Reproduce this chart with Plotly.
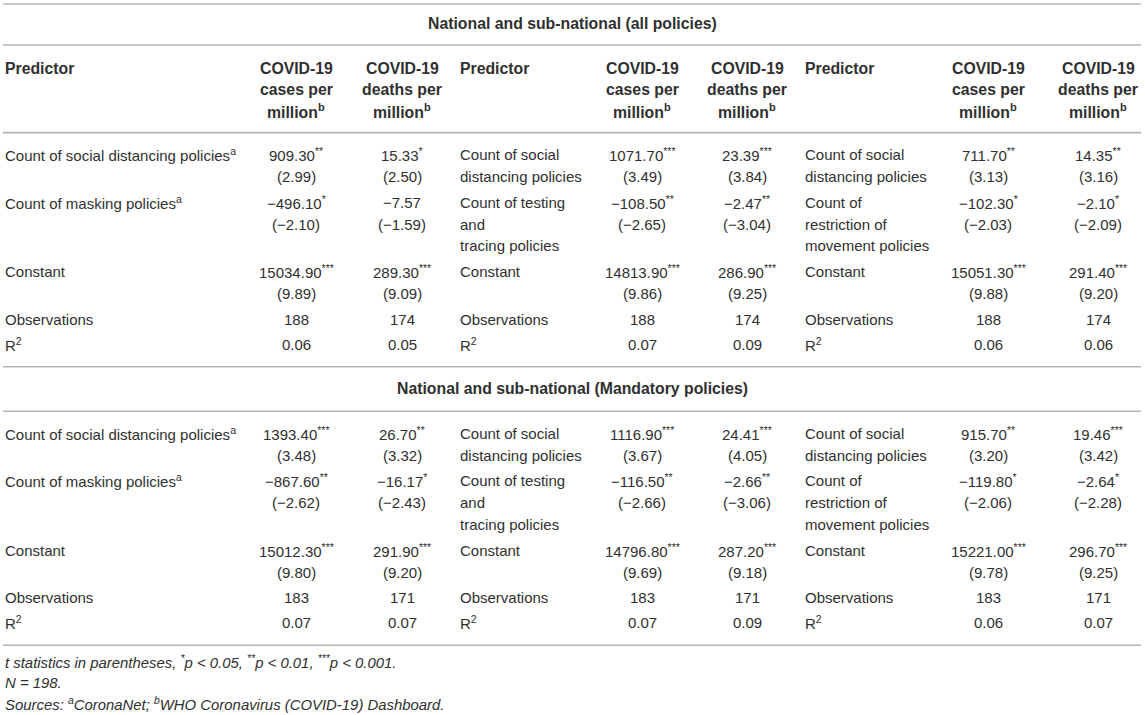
import plotly.graph_objects as go

# ---------------- data ----------------
section_titles = ["National and sub-national (all policies)",
                  "National and sub-national (Mandatory policies)"]
header_predictor = "Predictor"
header_cases = ["COVID-19", "cases per", "million<sup>b</sup>"]
header_deaths = ["COVID-19", "deaths per", "million<sup>b</sup>"]

# predictor labels for the three models (one list of wrapped lines per model)
social_labels = [["Count of social distancing policies<sup>a</sup>"],
                 ["Count of social", "distancing policies"],
                 ["Count of social", "distancing policies"]]
second_labels = [["Count of masking policies<sup>a</sup>"],
                 ["Count of testing", "and", "tracing policies"],
                 ["Count of", "restriction of", "movement policies"]]
constant_label = "Constant"
obs_label = "Observations"
r2_label = "R<sup>2</sup>"

# values: [model][outcome]  outcome 0 = cases per million, 1 = deaths per million
all_social_coef = [[909.30, 15.33], [1071.70, 23.39], [711.70, 14.35]]
all_social_star = [["**", "*"], ["***", "***"], ["**", "**"]]
all_social_t = [[2.99, 2.50], [3.49, 3.84], [3.13, 3.16]]
all_second_coef = [[-496.10, -7.57], [-108.50, -2.47], [-102.30, -2.10]]
all_second_star = [["*", ""], ["**", "**"], ["*", "*"]]
all_second_t = [[-2.10, -1.59], [-2.65, -3.04], [-2.03, -2.09]]
all_const_coef = [[15034.90, 289.30], [14813.90, 286.90], [15051.30, 291.40]]
all_const_star = [["***", "***"], ["***", "***"], ["***", "***"]]
all_const_t = [[9.89, 9.09], [9.86, 9.25], [9.88, 9.20]]
all_obs = [[188, 174], [188, 174], [188, 174]]
all_r2 = [[0.06, 0.05], [0.07, 0.09], [0.06, 0.06]]

mand_social_coef = [[1393.40, 26.70], [1116.90, 24.41], [915.70, 19.46]]
mand_social_star = [["***", "**"], ["***", "***"], ["**", "***"]]
mand_social_t = [[3.48, 3.32], [3.67, 4.05], [3.20, 3.42]]
mand_second_coef = [[-867.60, -16.17], [-116.50, -2.66], [-119.80, -2.64]]
mand_second_star = [["**", "*"], ["**", "**"], ["*", "*"]]
mand_second_t = [[-2.62, -2.43], [-2.66, -3.06], [-2.06, -2.28]]
mand_const_coef = [[15012.30, 291.90], [14796.80, 287.20], [15221.00, 296.70]]
mand_const_star = [["***", "***"], ["***", "***"], ["***", "***"]]
mand_const_t = [[9.80, 9.20], [9.69, 9.18], [9.78, 9.25]]
mand_obs = [[183, 171], [183, 171], [183, 171]]
mand_r2 = [[0.07, 0.07], [0.07, 0.09], [0.06, 0.07]]

footnotes = [
    "<i>t statistics in parentheses, <sup>*</sup>p &lt; 0.05, <sup>**</sup>p &lt; 0.01, <sup>***</sup>p &lt; 0.001.</i>",
    "<i>N = 198.</i>",
    "<i>Sources: <sup>a</sup>CoronaNet; <sup>b</sup>WHO Coronavirus (COVID-19) Dashboard.</i>",
]

# ---------------- styles / geometry ----------------
W, H = 1145, 715
FONT = "Liberation Sans, Arial, Helvetica, sans-serif"
TXT = "#303030"
RULE = "#b4b4b4"
FS = 15
FS_BOLD = 15.8
FS_NOTE = 14.9
pred_x = [3, 458, 803]          # left edge of predictor columns
col_x = [[296, 402], [642, 747], [988, 1098]]  # centres of cases / deaths columns
rule_x0, rule_x1 = 3, 1141
LINE = 21.8
GAP = 4.0

annotations = []
shapes = []


def fmt(v):
    s = f"{abs(v):.2f}"
    return ("\u2212" + s) if v < 0 else s


def text(x, y, t, anchor="left", bold=False, size=FS):
    if bold:
        t = "<b>" + t + "</b>"
        size = FS_BOLD
    annotations.append(dict(x=x, y=y, xref="x", yref="y", text=t, showarrow=False,
                            xanchor=anchor, yanchor="middle",
                            font=dict(family=FONT, size=size, color=TXT)))


def rule(y):
    shapes.append(dict(type="line", xref="x", yref="y", x0=rule_x0, x1=rule_x1,
                       y0=y, y1=y, line=dict(color=RULE, width=1.6)))


sections = [
    dict(title=section_titles[0], header=True,
         social=(all_social_coef, all_social_star, all_social_t),
         second=(all_second_coef, all_second_star, all_second_t),
         const=(all_const_coef, all_const_star, all_const_t),
         obs=all_obs, r2=all_r2),
    dict(title=section_titles[1], header=False,
         social=(mand_social_coef, mand_social_star, mand_social_t),
         second=(mand_second_coef, mand_second_star, mand_second_t),
         const=(mand_const_coef, mand_const_star, mand_const_t),
         obs=mand_obs, r2=mand_r2),
]

y = 4.0
rule(y)
for si, sec in enumerate(sections):
    top = y
    bottom = y + (41 if si == 0 else 44.5)
    text((rule_x0 + rule_x1) / 2, (top + bottom) / 2 + (-1.5 if si == 0 else 0.0),
         sec["title"], anchor="center", bold=True)
    y = bottom
    rule(y)
    if sec["header"]:
        hy = y + 23
        for m in range(3):
            text(pred_x[m], hy, header_predictor, bold=True)
            for k, line in enumerate(header_cases):
                text(col_x[m][0], hy + k * 21.3, line, anchor="center", bold=True)
            for k, line in enumerate(header_deaths):
                text(col_x[m][1], hy + k * 21.3, line, anchor="center", bold=True)
        y = hy + 2 * 21.3 + 22
        rule(y)
    y += 22

    # coefficient rows
    for labels, (coef, star, tval) in ((social_labels, sec["social"]), (second_labels, sec["second"])):
        nlines = max(2, max(len(l) for l in labels))
        for m in range(3):
            for k, line in enumerate(labels[m]):
                text(pred_x[m], y + k * LINE, line)
            for o in range(2):
                st = star[m][o]
                c = fmt(coef[m][o]) + (f"<sup>{st}</sup>" if st else "")
                text(col_x[m][o], y, c, anchor="center")
                text(col_x[m][o], y + LINE, "(" + fmt(tval[m][o]) + ")", anchor="center")
        y += nlines * LINE + GAP
    coef, star, tval = sec["const"]
    for m in range(3):
        text(pred_x[m], y, constant_label)
        for o in range(2):
            text(col_x[m][o], y, fmt(coef[m][o]) + f"<sup>{star[m][o]}</sup>", anchor="center")
            text(col_x[m][o], y + LINE, "(" + fmt(tval[m][o]) + ")", anchor="center")
    y += 2 * LINE + GAP
    for m in range(3):
        text(pred_x[m], y, obs_label)
        for o in range(2):
            text(col_x[m][o], y, str(sec["obs"][m][o]), anchor="center")
    y += LINE + GAP - 0.8
    for m in range(3):
        text(pred_x[m], y, r2_label)
        for o in range(2):
            text(col_x[m][o], y, f"{sec['r2'][m][o]:.2f}", anchor="center")
    y += 22.5
    rule(y)

fy = y + 17
for k, note in enumerate(footnotes):
    text(pred_x[0], fy + k * 21, note, size=FS_NOTE)

fig = go.Figure()
fig.update_layout(
    width=W, height=H, margin=dict(l=0, r=0, t=0, b=0),
    paper_bgcolor="white", plot_bgcolor="white",
    xaxis=dict(range=[0, W], visible=False, fixedrange=True),
    yaxis=dict(range=[H, 0], visible=False, fixedrange=True),
    annotations=annotations, shapes=shapes, showlegend=False,
)
fig.write_html("out.html", config={"displayModeBar": False},
               post_script="document.body.style.margin='0px';document.body.style.overflow='hidden';")
